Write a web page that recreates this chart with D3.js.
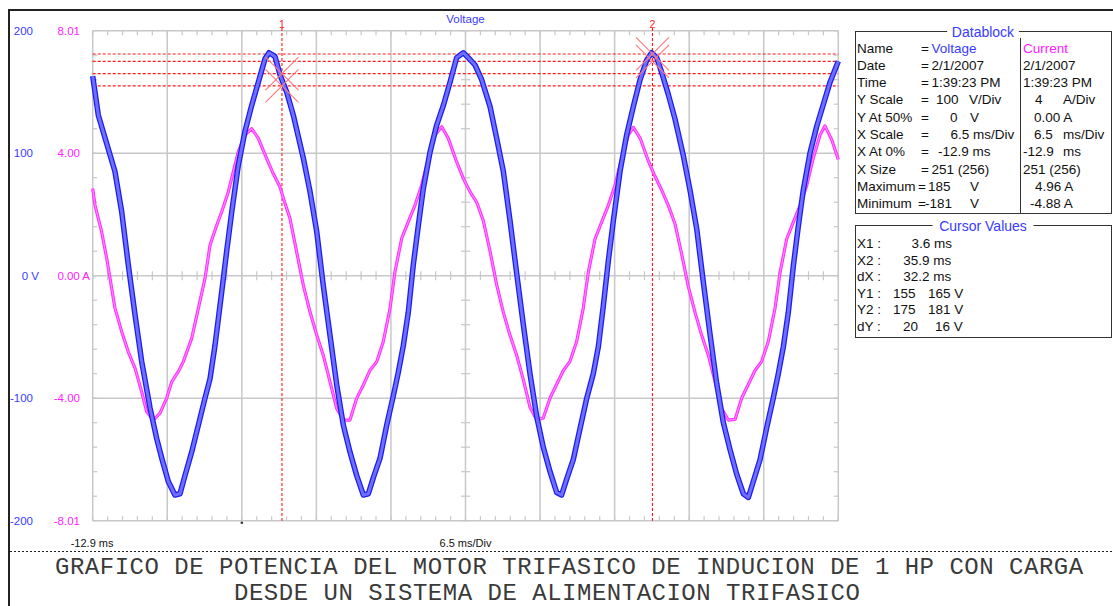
<!DOCTYPE html>
<html>
<head>
<meta charset="utf-8">
<script src="https://cdn.jsdelivr.net/npm/d3@7/dist/d3.min.js"></script>
<style>
  body { margin: 0; background: #fff; }
  text { font-family: "Liberation Sans", Arial, sans-serif; }
  text.title { font-family: "Liberation Mono", "Courier New", monospace; }
</style>
</head>
<body>
<script>
var voltT = [-12.9,-12.41,-10.96,-10.37,-9.80,-9.21,-8.63,-7.90,-7.32,-6.88,-6.31,-5.73,-5.29,-4.85,-4.27,-3.69,-3.11,-2.67,-2.24,-1.65,-1.22,-0.78,-0.21,0.38,0.96,1.54,2.12,2.47,2.99,3.43,4.01,4.59,5.46,6.04,6.63,7.20,7.79,8.37,8.95,9.53,10.11,10.69,11.13,11.56,12.15,12.73,13.31,13.74,14.18,14.61,15.05,15.49,15.92,16.51,17.09,17.67,18.25,18.83,19.41,19.84,20.43,21.01,21.74,22.32,22.90,23.48,24.06,24.64,25.22,25.81,26.38,26.97,27.55,27.98,28.42,29.0,29.58,30.17,30.74,31.18,31.61,32.05,32.49,33.07,33.65,34.23,34.82,35.40,35.83,36.27,36.70,37.28,37.86,38.59,39.17,39.76,40.33,40.92,41.50,42.08,42.66,43.24,43.82,44.26,44.69,45.28,45.86,46.43,46.87,47.31,47.74,48.18,48.61,49.05,49.63,50.22,50.80,51.38,52.1];
var voltV = [163,131,85,52,9,-32,-70,-108,-133,-149,-168,-179,-178,-163,-144,-122,-100,-84,-57,-13,20,52,90,118,139,158,177,182,179,164,150,131,96,69,36,-8,-49,-89,-122,-144,-163,-179,-178,-165,-149,-122,-98,-79,-57,-30,9,41,71,101,123,139,158,178,182,178,172,160,138,112,85,45,2,-40,-80,-115,-140,-160,-177,-179,-166,-150,-125,-100,-80,-58,-25,12,45,85,115,138,160,176,182,178,166,148,128,98,70,38,-5,-48,-88,-120,-142,-162,-178,-181,-168,-150,-124,-100,-80,-58,-30,8,40,70,100,122,140,158,175];

var currT = [-12.9,-12.70,-12.12,-11.68,-11.39,-10.96,-10.37,-9.80,-9.21,-8.63,-8.19,-7.62,-7.03,-6.45,-6.01,-5.44,-5.0,-4.27,-3.69,-3.11,-2.67,-2.09,-1.65,-1.08,-0.64,-0.21,0.38,0.96,1.54,2.27,2.84,3.43,3.72,4.30,4.88,5.46,6.04,6.63,7.20,7.79,8.37,8.95,9.53,10.11,10.69,11.28,11.86,12.43,13.02,13.45,14.04,14.61,15.20,15.78,16.36,16.94,17.53,18.10,18.83,19.41,20.0,20.58,21.15,21.74,22.32,22.90,23.48,24.06,24.64,25.22,25.81,26.38,26.97,27.55,28.13,28.71,29.29,29.87,30.30,30.89,31.47,32.05,32.63,33.22,33.79,34.23,34.82,35.54,36.12,36.70,37.28,37.86,38.45,39.02,39.61,40.19,40.77,41.35,41.94,42.51,43.10,43.68,44.26,44.84,45.42,46.0,46.59,47.02,47.60,48.18,48.77,49.35,49.92,50.51,50.94,51.52,52.1];
var currA = [2.85,2.31,1.43,0.57,-0.08,-1.06,-1.83,-2.49,-3.02,-3.80,-4.45,-4.72,-4.49,-4.00,-3.47,-3.14,-2.81,-2.05,-1.07,-0.09,1.0,1.65,2.09,2.74,3.40,4.05,4.60,4.81,4.49,3.83,3.34,2.90,2.53,1.87,0.78,-0.31,-1.18,-1.94,-2.60,-3.47,-4.34,-4.72,-4.72,-4.01,-3.58,-3.09,-2.81,-2.16,-1.07,0.13,1.22,1.76,2.31,2.96,3.83,4.60,4.87,4.49,3.72,3.18,2.74,2.40,1.80,0.80,-0.30,-1.20,-1.95,-2.60,-3.40,-4.30,-4.72,-4.65,-4.00,-3.55,-3.10,-2.80,-2.15,-1.05,0.10,1.20,1.75,2.30,2.95,3.85,4.60,4.85,4.50,3.75,3.25,2.80,2.30,1.70,0.70,-0.35,-1.20,-1.95,-2.60,-3.45,-4.35,-4.72,-4.70,-4.00,-3.55,-3.10,-2.80,-2.15,-1.05,0.10,1.20,1.75,2.30,2.95,3.85,4.60,4.90,4.45,3.80];

var xStart = -12.9, msPerDiv = 6.5, xDivs = 10;
var vTicks = [200, 100, 0, -100, -200];
var vTickLabels = ["200", "100", "0 V", "-100", "-200"];
var aTickLabels = ["8.01", "4.00", "0.00 A", "-4.00", "-8.01"];
var aMax = 8.01;

var cursorX = [3.6, 35.9];
var cursorY1 = [155, 165];
var cursorY2 = [175, 181];

var dbNames = ["Name", "Date", "Time", "Y Scale", "Y At 50%", "X Scale", "X At 0%", "X Size", "Maximum", "Minimum"];
var dbVolt = ["Voltage", "2/1/2007", "1:39:23 PM", "100|V/Div", "0|V", "6.5 ms/Div", "-12.9 ms", "251 (256)", "185|V", "-181|V"];
var dbCurr = ["Current", "2/1/2007", "1:39:23 PM", "4|A/Div", "0.00 A", "6.5|ms/Div", "-12.9|ms", "251 (256)", "4.96 A", "-4.88 A"];

var cvNames = ["X1 :", "X2 :", "dX :", "Y1 :", "Y2 :", "dY :"];
var cvValues = ["3.6 ms", "35.9 ms", "32.2 ms", "155|165 V", "175|181 V", "20|16 V"];

var titleLines = ["GRAFICO DE POTENCIA DEL MOTOR TRIFASICO DE INDUCION DE 1 HP CON CARGA",
                  "DESDE UN SISTEMA DE ALIMENTACION TRIFASICO"];

// ---- drawing ----
var W = 1113, H = 606;
var svg = d3.select("body").append("svg").attr("width", W).attr("height", H);

var L = 92.7, R = 838.3, T = 30.7, B = 520.7;
var xEnd = xStart + msPerDiv * xDivs;
var x = d3.scaleLinear().domain([xStart, xEnd]).range([L, R]);
var yV = d3.scaleLinear().domain([-200, 200]).range([B, T]);
var yA = d3.scaleLinear().domain([-aMax, aMax]).range([B, T]);

// outer frame
svg.append("line").attr("x1", 8).attr("x2", W).attr("y1", 10).attr("y2", 10).attr("stroke", "#222").attr("stroke-width", 2);
svg.append("line").attr("x1", 9).attr("x2", 9).attr("y1", 10).attr("y2", H).attr("stroke", "#222").attr("stroke-width", 2);

// graticule
var grid = svg.append("g").attr("stroke", "#c8c8c8").attr("stroke-width", 1.5);
var xGrid = d3.range(xDivs + 1).map(function(k){ return xStart + k * msPerDiv; });
grid.selectAll(".vg").data(xGrid).enter().append("line")
    .attr("x1", function(d){ return x(d); }).attr("x2", function(d){ return x(d); })
    .attr("y1", T).attr("y2", B);
grid.selectAll(".hg").data(vTicks).enter().append("line")
    .attr("x1", L).attr("x2", R)
    .attr("y1", function(d){ return yV(d); }).attr("y2", function(d){ return yV(d); });

var ticks = svg.append("g").attr("stroke", "#c8c8c8").attr("stroke-width", 1.2);
var xMinor = d3.range(xDivs * 5 + 1).map(function(k){ return xStart + k * msPerDiv / 5; });
var vMinor = d3.range(-200, 201, 20);
var xMid = x(xStart + msPerDiv * 5), yMid = yV(0);
xMinor.forEach(function(t){
  var px = x(t);
  ticks.append("line").attr("x1", px).attr("x2", px).attr("y1", T).attr("y2", T + 4.5);
  ticks.append("line").attr("x1", px).attr("x2", px).attr("y1", B - 4.5).attr("y2", B);
  ticks.append("line").attr("x1", px).attr("x2", px).attr("y1", yMid - 4.5).attr("y2", yMid + 4.5);
});
vMinor.forEach(function(v){
  var py = yV(v);
  ticks.append("line").attr("x1", L).attr("x2", L + 4.5).attr("y1", py).attr("y2", py);
  ticks.append("line").attr("x1", R - 4.5).attr("x2", R).attr("y1", py).attr("y2", py);
  ticks.append("line").attr("x1", xMid - 4.5).attr("x2", xMid + 4.5).attr("y1", py).attr("y2", py);
});

// y labels
svg.selectAll(".vl").data(vTicks).enter().append("text")
   .attr("x", function(d){ return d === 0 ? 39 : 33; })
   .attr("y", function(d){ return yV(d) + 4; })
   .attr("text-anchor", "end").attr("font-size", 11.5).attr("fill", "#3a3aff")
   .text(function(d, i){ return vTickLabels[i]; });
svg.selectAll(".al").data(vTicks).enter().append("text")
   .attr("x", function(d){ return d === 0 ? 90 : 80; })
   .attr("y", function(d){ return yV(d) + 4; })
   .attr("text-anchor", "end").attr("font-size", 11.5).attr("fill", "#ff20ff")
   .text(function(d, i){ return aTickLabels[i]; });

// x labels
svg.append("text").attr("x", x(xStart) - 22).attr("y", 547).attr("font-size", 11).attr("fill", "#111").text(xStart + " ms");
svg.append("text").attr("x", xMid).attr("y", 547).attr("text-anchor", "middle").attr("font-size", 11).attr("fill", "#111").text(msPerDiv + " ms/Div");
svg.append("circle").attr("cx", x(xStart + 2 * msPerDiv)).attr("cy", B + 2).attr("r", 1.3).attr("fill", "#333");
svg.append("text").attr("x", xMid).attr("y", 23).attr("text-anchor", "middle").attr("font-size", 11.5).attr("fill", "#3a3aff").text("Voltage");

// cursors
var cur = svg.append("g").attr("stroke", "#ff1a1a").attr("stroke-width", 1.1).attr("stroke-dasharray", "3,2");
cursorY1.concat(cursorY2).forEach(function(v){
  cur.append("line").attr("x1", L).attr("x2", R).attr("y1", yV(v)).attr("y2", yV(v));
});
cursorX.forEach(function(t, i){
  cur.append("line").attr("x1", x(t)).attr("x2", x(t)).attr("y1", 28).attr("y2", B);
  svg.append("text").attr("x", x(t)).attr("y", 28).attr("text-anchor", "middle")
     .attr("font-size", 10.5).attr("fill", "#ff1a1a").text(i + 1);
});

// traces
var lineV = d3.line().x(function(d){ return x(d[0]); }).y(function(d){ return yV(d[1]); });
var lineA = d3.line().x(function(d){ return x(d[0]); }).y(function(d){ return yA(d[1]); });
var vData = voltT.map(function(t, i){ return [t, voltV[i]]; });
var aData = currT.map(function(t, i){ return [t, currA[i]]; });

svg.append("path").datum(aData).attr("d", lineA).attr("fill", "none")
   .attr("stroke", "#ff30ff").attr("stroke-width", 3.2).attr("stroke-linejoin", "round");
svg.append("path").datum(aData).attr("d", lineA).attr("fill", "none")
   .attr("stroke", "#ff80ff").attr("stroke-width", 1.2).attr("stroke-linejoin", "round");
svg.append("path").datum(vData).attr("d", lineV).attr("fill", "none")
   .attr("stroke", "#1c1cf0").attr("stroke-width", 5.5).attr("stroke-linejoin", "round");
svg.append("path").datum(vData).attr("d", lineV).attr("fill", "none")
   .attr("stroke", "#6e6eff").attr("stroke-width", 3).attr("stroke-linejoin", "round");

// cursor crosses
var cross = svg.append("g").attr("stroke", "#ff7a7a").attr("stroke-width", 1.1);
[[cursorX[0], cursorY1], [cursorX[1], cursorY2]].forEach(function(c){
  c[1].forEach(function(v){
    var cx = x(c[0]), cy = yV(v), s = 16.5;
    cross.append("line").attr("x1", cx - s).attr("y1", cy - s).attr("x2", cx + s).attr("y2", cy + s);
    cross.append("line").attr("x1", cx - s).attr("y1", cy + s).attr("x2", cx + s).attr("y2", cy - s);
  });
});

// info boxes
var bx0 = 855.5, bx1 = 1111.5;
function box(y0, y1, title){
  svg.append("rect").attr("x", bx0).attr("y", y0).attr("width", bx1 - bx0).attr("height", y1 - y0)
     .attr("fill", "none").attr("stroke", "#333").attr("stroke-width", 1);
  var tw = title.length * 7.3 + 6;
  svg.append("rect").attr("x", 983 - tw / 2).attr("y", y0 - 6).attr("width", tw).attr("height", 12).attr("fill", "#fff");
  svg.append("text").attr("x", 983).attr("y", y0 + 5).attr("text-anchor", "middle")
     .attr("font-size", 14).attr("fill", "#3a3aff").text(title);
}
box(31.5, 213.5, "Datablock");
svg.append("line").attr("x1", 1020.5).attr("x2", 1020.5).attr("y1", 38).attr("y2", 213.5).attr("stroke", "#333");
box(225.5, 337.5, "Cursor Values");

var fs = 13.5;
var eqX = [921, 921, 921, 921, 921, 921, 921, 921, 918, 918];
var voltX = [[931.5], [931.5], [931.5], [936, 969], [950, 970], [950.5], [938], [931.5], [928, 970], [925, 970]];
var currX = [[1023], [1023], [1023], [1035, 1063], [1034], [1034, 1063], [1023, 1063], [1023], [1035], [1030]];
dbNames.forEach(function(n, i){
  var yy = 52.5 + 17.3 * i;
  svg.append("text").attr("x", 857).attr("y", yy).attr("font-size", fs).attr("fill", "#111").text(n);
  svg.append("text").attr("x", eqX[i]).attr("y", yy).attr("font-size", fs).attr("fill", "#111").text("=");
  dbVolt[i].split("|").forEach(function(s, j){
    svg.append("text").attr("x", voltX[i][j]).attr("y", yy).attr("font-size", fs)
       .attr("fill", i === 0 ? "#3a3aff" : "#111").text(s);
  });
  dbCurr[i].split("|").forEach(function(s, j){
    svg.append("text").attr("x", currX[i][j]).attr("y", yy).attr("font-size", fs)
       .attr("fill", i === 0 ? "#ff20ff" : "#111").text(s);
  });
});

var cvX = [[911.5], [903.3], [903.3], [893, 928], [893, 928], [903, 935]];
cvNames.forEach(function(n, i){
  var yy = 248 + 16.5 * i;
  svg.append("text").attr("x", 857).attr("y", yy).attr("font-size", fs).attr("fill", "#111").text(n);
  cvValues[i].split("|").forEach(function(s, j){
    svg.append("text").attr("x", cvX[i][j]).attr("y", yy).attr("font-size", fs).attr("fill", "#111").text(s);
  });
});

// title
svg.append("line").attr("x1", 10).attr("x2", W).attr("y1", 551.5).attr("y2", 551.5)
   .attr("stroke", "#222").attr("stroke-width", 1).attr("stroke-dasharray", "2,2");
var titleX = [55, 234], titleY = [574, 600], charW = 14.9;
titleLines.forEach(function(s, i){
  svg.append("text").attr("class", "title").attr("x", titleX[i]).attr("y", titleY[i])
     .attr("font-size", 24).attr("fill", "#3a3a3a")
     .attr("textLength", s.length * charW).attr("lengthAdjust", "spacing")
     .text(s);
});
</script>
</body>
</html>
